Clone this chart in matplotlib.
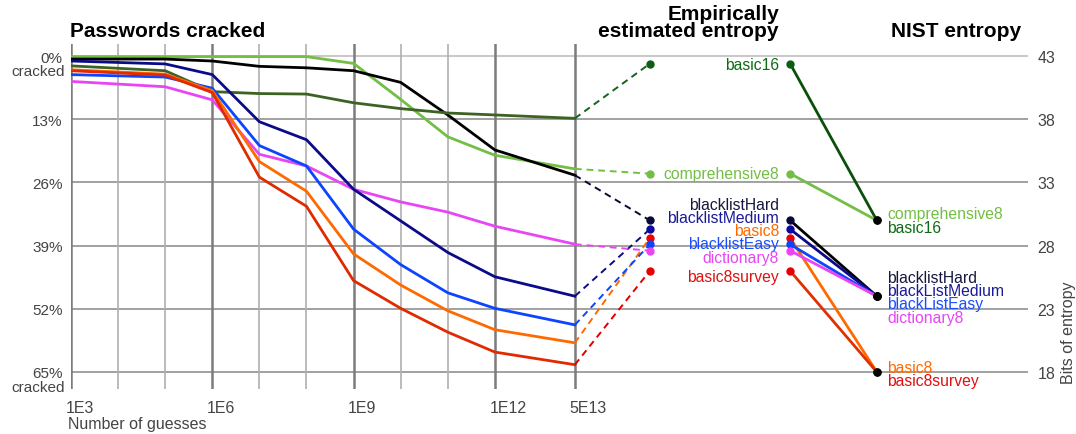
import numpy as np
import matplotlib
matplotlib.use("Agg")
import matplotlib.pyplot as plt
from matplotlib.transforms import ScaledTranslation, blended_transform_factory

plt.rcParams["font.family"] = ["Liberation Sans", "DejaVu Sans"]

# guesses at which the cracking curves are sampled
guesses = [1e3, 1e5, 1e6, 1e7, 1e8, 1e9, 1e10, 1e11, 1e12, 5e13]

# percent of passwords cracked, per policy
comprehensive8 = [0.1, 0.1, 0.1, 0.1, 0.1, 1.5, 8.9, 16.6, 20.4, 23.2]
blacklistHard = [0.6, 0.6, 1.0, 2.1, 2.4, 3.0, 5.4, 12.1, 19.3, 24.5]
basic16 = [2.0, 3.0, 7.3, 7.7, 7.8, 9.6, 10.8, 11.7, 12.1, 12.8]
blacklistMedium = [1.0, 1.6, 3.8, 13.5, 17.2, 27.4, 33.9, 40.4, 45.4, 49.4]
blacklistEasy = [3.8, 4.3, 6.6, 18.4, 22.6, 35.6, 42.9, 48.7, 51.9, 55.3]
basic8 = [2.8, 3.7, 7.1, 21.7, 27.8, 40.7, 47.1, 52.4, 56.3, 59.0]
basic8survey = [3.0, 3.9, 7.5, 24.9, 30.9, 46.2, 51.9, 56.8, 60.9, 63.5]
dictionary8 = [5.2, 6.3, 9.0, 20.2, 22.6, 27.4, 30.0, 32.1, 35.0, 38.7]

# entropy (bits)
policies = ["basic16", "comprehensive8", "blacklistHard", "blacklistMedium",
            "basic8", "blacklistEasy", "dictionary8", "basic8survey"]
empirical_bits = [42.4, 33.7, 30.0, 29.3, 28.6, 28.1, 27.6, 26.0]
nist_bits = [30, 30, 24, 24, 18, 24, 24, 18]
nist_names = ["basic16", "comprehensive8", "blacklistHard", "blackListMedium",
              "basic8", "blackListEasy", "dictionary8", "basic8survey"]

cracked = {
    "comprehensive8": comprehensive8, "blacklistHard": blacklistHard,
    "basic16": basic16, "blacklistMedium": blacklistMedium,
    "blacklistEasy": blacklistEasy, "basic8": basic8,
    "basic8survey": basic8survey, "dictionary8": dictionary8,
}

pct_ticks = [0, 13, 26, 39, 52, 65]
bit_ticks = [18, 23, 28, 33, 38, 43]
x_ticks = [1e3, 1e6, 1e9, 1e12, 5e13]
x_ticklabels = ["1E3", "1E6", "1E9", "1E12", "5E13"]

# styles
curve_col = {
    "comprehensive8": "#72bf44", "blacklistHard": "#000000",
    "basic16": "#3d6324", "blacklistMedium": "#0b0b8a",
    "blacklistEasy": "#0d45ff", "basic8": "#ff6a00",
    "basic8survey": "#e02a00", "dictionary8": "#e845f5",
}
dash_col = dict(curve_col, basic16="#14641a", basic8survey="#e00000",
                blacklistHard="#0a0a30")
dot_col = dict(curve_col, basic16="#0b5e12", basic8="#ee0000",
               basic8survey="#e60000", blacklistHard="#0a0a3a",
               blacklistMedium="#0a0aa0")
text_col = dict(curve_col, basic16="#0e6b14", blacklistHard="#17173d",
                blacklistMedium="#1a1a99", basic8survey="#e01010",
                blacklistEasy="#1a4cff")
nist_line_col = dict(curve_col, basic16="#0a4f0a", basic8survey="#e03000")

# label positions (bits)
emp_label_y = [42.37, 33.71, 31.25, 30.22, 29.19, 28.16, 27.05, 25.54]
nist_label_y = [29.43, 30.54, 25.46, 24.43, 18.32, 23.40, 22.29, 17.29]

# column positions along x (log10 units)
X_DASH_END = 10 ** 15.29
X_EMP_LABEL = 10 ** 18.03
X_EMP_DOT = 10 ** 18.27
X_NIST_DOT = 10 ** 20.11
X_NIST_LABEL = 10 ** 20.33


def pct_to_bits(p):
    return 43 - np.asarray(p) * 5 / 13


fig = plt.figure(figsize=(10.76, 4.35), dpi=100)
ax = fig.add_axes([71 / 1076, 45 / 435, 957 / 1076, 345 / 435])
ax.set_xscale("log")
ax.set_xlim(1e3, 10 ** 23.32)
ax.set_ylim(68.5, -2.5)
ax2 = ax.twinx()
ax2.set_ylim(pct_to_bits(68.5), pct_to_bits(-2.5))

for a in (ax, ax2):
    for s in a.spines.values():
        s.set_visible(False)
    a.minorticks_off()

# grid
for p in pct_ticks:
    ax.axhline(p, color="#c4c4c4" if p == 0 else "#9a9a9a", lw=1.3, zorder=0)
for e in range(3, 13):
    dark = e % 3 == 0
    ax.axvline(10.0 ** e, color="#7c7c7c" if dark else "#b0b0b0",
               lw=1.8 if dark else 1.2, zorder=0)
ax.axvline(5e13, color="#7c7c7c", lw=1.8, zorder=0)

# cracking curves
order = ["comprehensive8", "blacklistHard", "basic16", "dictionary8",
         "blacklistMedium", "blacklistEasy", "basic8", "basic8survey"]
for name in order:
    ax.plot(guesses, cracked[name], color=curve_col[name], lw=2.0,
            solid_joinstyle="round", zorder=3)

# dashed connectors, dots, labels, NIST lines
for i, name in enumerate(policies):
    end_bits = pct_to_bits(cracked[name][-1])
    ax2.plot([5e13, X_DASH_END], [end_bits, empirical_bits[i]],
             color=dash_col[name], lw=1.4, ls=(0, (3.5, 2.5)), zorder=3)
    ax2.plot([X_DASH_END], [empirical_bits[i]], "o", ms=5,
             color=dot_col[name], zorder=5)
    ax2.text(X_EMP_LABEL, emp_label_y[i], name, color=text_col[name],
             fontsize=11.3, ha="right", va="center")

for i, name in enumerate(policies):
    ax2.plot([X_EMP_DOT, X_NIST_DOT], [empirical_bits[i], nist_bits[i]],
             color=nist_line_col[name], lw=2.0, zorder=3)
for i, name in enumerate(policies):
    ax2.plot([X_EMP_DOT], [empirical_bits[i]], "o", ms=5,
             color=dot_col[name], zorder=5)
    ax2.text(X_NIST_LABEL, nist_label_y[i], nist_names[i],
             color=text_col[name], fontsize=11.3, ha="left", va="center")
ax2.plot([X_NIST_DOT] * len(nist_bits), nist_bits, "o", ms=5,
         color="black", zorder=6)

# ticks
ax.set_yticks(pct_ticks)
ax.set_yticklabels([f"{p}%" for p in pct_ticks])
ax.tick_params(axis="y", length=0, pad=6, labelsize=11, labelcolor="#444444")
ax.set_xticks(x_ticks)
ax.set_xticklabels(x_ticklabels)
ax.tick_params(axis="x", length=0, pad=8, labelsize=11.5, labelcolor="#444444")
shift = ScaledTranslation(-4 / 72, 0, fig.dpi_scale_trans)
for lab in ax.get_xticklabels():
    lab.set_horizontalalignment("left")
    lab.set_transform(lab.get_transform() + shift)

ax2.set_yticks(bit_ticks)
ax2.set_yticklabels([str(b) for b in bit_ticks])
ax2.tick_params(axis="y", length=0, pad=7, labelsize=11.5, labelcolor="#444444")

tr = blended_transform_factory(ax.transAxes, ax.transData)
ax.text(-0.0065, 3.15, "cracked", transform=tr, ha="right", va="center",
        fontsize=11, color="#444444")
ax.text(-0.0065, 68.15, "cracked", transform=tr, ha="right", va="center",
        fontsize=11, color="#444444")

fig.text(68 / 1076, 1 - 425 / 435, "Number of guesses", ha="left",
         va="center", fontsize=11.5, color="#444444")
fig.text(1068 / 1076, 1 - 333 / 435, "Bits of entropy", rotation=90,
         ha="center", va="center", fontsize=11.5, color="#444444")

# titles
fig.text(70 / 1076, 1 - 37 / 435, "Passwords cracked", ha="left",
         va="baseline", fontsize=15, fontweight="bold")
fig.text(779 / 1076, 1 - 19.5 / 435, "Empirically", ha="right",
         va="baseline", fontsize=15, fontweight="bold")
fig.text(779 / 1076, 1 - 37 / 435, "estimated entropy", ha="right",
         va="baseline", fontsize=15, fontweight="bold")
fig.text(1021 / 1076, 1 - 37 / 435, "NIST entropy", ha="right",
         va="baseline", fontsize=15, fontweight="bold")

fig.savefig("out.png", dpi=100)
